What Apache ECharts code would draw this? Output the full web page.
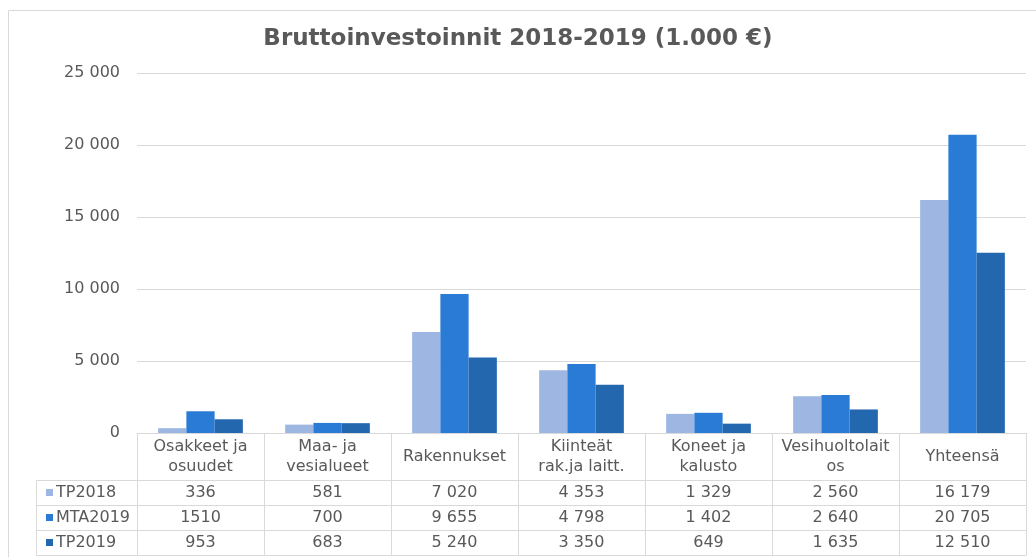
<!DOCTYPE html>
<html>
<head>
<meta charset="utf-8">
<script src="https://cdn.jsdelivr.net/npm/echarts@6/dist/echarts.min.js"></script>
<style>
  html, body { margin: 0; padding: 0; background: #fff; }
  #chart { width: 1036px; height: 557px; }
</style>
</head>
<body>
<div id="chart"></div>
<script>
// data
const categories = ['Osakkeet ja\nosuudet', 'Maa- ja\nvesialueet', 'Rakennukset', 'Kiinteät\nrak.ja laitt.', 'Koneet ja\nkalusto', 'Vesihuoltolait\nos', 'Yhteensä']
const seriesNames = ['TP2018', 'MTA2019', 'TP2019']
const tp2018 = [336, 581, 7020, 4353, 1329, 2560, 16179]
const mta2019 = [1510, 700, 9655, 4798, 1402, 2640, 20705]
const tp2019 = [953, 683, 5240, 3350, 649, 1635, 12510]
const yTicks = [0, 5000, 10000, 15000, 20000, 25000]
// cells shown without thousands separator in the table
const plainCells = [[1, 0]]

const colors = ['#9db6e2', '#2a7bd6', '#2367af']
const font = 'DejaVu Sans, Verdana, sans-serif'
const gridColor = '#d9d9d9'
const textColor = '#595959'

const chart = echarts.init(document.getElementById('chart'))

// layout
const gridLeft = 137
const gridRight = 1026
const gridTop = 73
const gridBottom = 433
const headerH = 47
const rowH = 25

function fmt(v) {
  return String(v).replace(/\B(?=(\d{3})+(?!\d))/g, ' ')
}

const allValues = [tp2018, mta2019, tp2019]

function cellText(si) {
  return allValues[si].map((v, ci) => {
    const plain = plainCells.some((p) => p[0] === si && p[1] === ci)
    return plain ? String(v) : fmt(v)
  })
}

// one extra x axis per table row
const rowAxes = seriesNames.map((name, si) => {
  return {
    type: 'category',
    gridIndex: 0,
    position: 'bottom',
    offset: headerH + rowH * si,
    data: cellText(si),
    axisLine: { show: true, lineStyle: { color: gridColor, width: 1 } },
    axisTick: { show: false },
    axisLabel: {
      interval: 0,
      margin: rowH / 2,
      verticalAlign: 'middle',
      fontFamily: font,
      fontSize: 16,
      color: textColor
    },
    splitLine: { show: false }
  }
})

const option = {
  animation: false,
  backgroundColor: '#fff',
  title: {
    text: 'Bruttoinvestoinnit 2018-2019 (1.000 €)',
    left: 'center',
    top: 23,
    textStyle: {
      fontFamily: font,
      fontSize: 23,
      fontWeight: 'bold',
      color: textColor
    }
  },
  legend: {
    data: seriesNames,
    orient: 'vertical',
    left: 46,
    top: gridBottom + headerH + 3,
    padding: 0,
    height: 80,
    icon: 'rect',
    itemWidth: 7,
    itemHeight: 7,
    itemGap: 6,
    textStyle: {
      fontFamily: font,
      fontSize: 16,
      color: textColor,
      lineHeight: 19,
      padding: [0, 0, 0, -2]
    },
    selectedMode: false
  },
  grid: {
    left: gridLeft,
    right: 1036 - gridRight,
    top: gridTop,
    bottom: 557 - gridBottom
  },
  xAxis: [
    {
      type: 'category',
      data: categories,
      axisLine: { show: true, lineStyle: { color: gridColor } },
      // ticks reach down through the table as column lines
      axisTick: {
        show: true,
        interval: 0,
        length: headerH + rowH * 3,
        lineStyle: { color: gridColor }
      },
      axisLabel: {
        interval: 0,
        margin: headerH / 2,
        verticalAlign: 'middle',
        fontFamily: font,
        fontSize: 16,
        lineHeight: 20,
        color: textColor
      }
    },
    ...rowAxes,
    {
      type: 'category',
      gridIndex: 0,
      position: 'bottom',
      offset: headerH + rowH * 3,
      data: categories,
      axisLine: { show: true, lineStyle: { color: gridColor } },
      axisTick: { show: false },
      axisLabel: { show: false }
    }
  ],
  yAxis: {
    type: 'value',
    min: yTicks[0],
    max: yTicks[yTicks.length - 1],
    interval: yTicks[1] - yTicks[0],
    axisLine: { show: false },
    axisTick: { show: false },
    axisLabel: {
      margin: 17,
      fontFamily: font,
      fontSize: 16,
      color: textColor,
      formatter: (v) => fmt(v)
    },
    splitLine: { lineStyle: { color: gridColor } }
  },
  series: seriesNames.map((name, si) => {
    return {
      name: name,
      type: 'bar',
      data: allValues[si],
      barGap: 0,
      barCategoryGap: '33.3%',
      itemStyle: { color: colors[si] }
    }
  }),
  graphic: [
    // chart border
    {
      type: 'rect',
      shape: { x: 8.5, y: 10.5, width: 1040, height: 560 },
      style: { fill: null, stroke: gridColor, lineWidth: 1 },
      silent: true
    },
    // legend column of the data table
    {
      type: 'polyline',
      shape: {
        points: [
          [gridLeft, gridBottom + headerH + 0.5],
          [36.5, gridBottom + headerH + 0.5],
          [36.5, gridBottom + headerH + rowH * 3 + 0.5],
          [gridLeft, gridBottom + headerH + rowH * 3 + 0.5]
        ]
      },
      style: { stroke: gridColor, lineWidth: 1, fill: null },
      silent: true
    },
    {
      type: 'line',
      shape: { x1: 36, y1: gridBottom + headerH + rowH + 0.5, x2: gridLeft, y2: gridBottom + headerH + rowH + 0.5 },
      style: { stroke: gridColor, lineWidth: 1 },
      silent: true
    },
    {
      type: 'line',
      shape: { x1: 36, y1: gridBottom + headerH + rowH * 2 + 0.5, x2: gridLeft, y2: gridBottom + headerH + rowH * 2 + 0.5 },
      style: { stroke: gridColor, lineWidth: 1 },
      silent: true
    }
  ]
}

chart.setOption(option)
</script>
</body>
</html>
